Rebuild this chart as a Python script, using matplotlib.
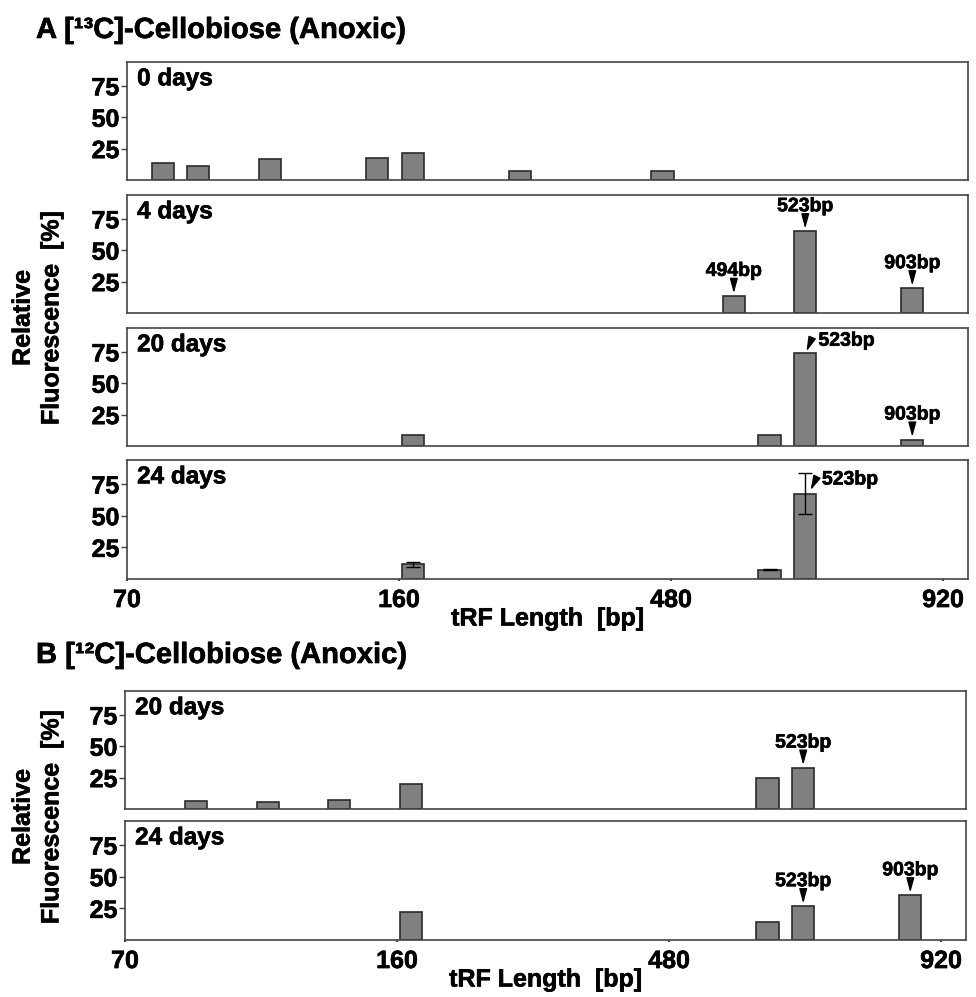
import matplotlib
matplotlib.use("Agg")
import matplotlib.pyplot as plt
import matplotlib.patheffects as pe
from matplotlib.text import Text
from matplotlib.transforms import offset_copy

plt.rcParams['font.family'] = ['Liberation Sans', 'DejaVu Sans']
plt.rcParams['font.weight'] = 'bold'

# tRF bins (positions along the categorical x axis) and relative fluorescence [%]
a0_bins = [1, 2, 4, 7, 8, 11, 15]
a0_vals = [13.2, 11.1, 16.4, 17.2, 21.7, 7.4, 6.9]

a4_bins = [17, 19, 22]
a4_vals = [13.5, 65.0, 19.6]

a20_bins = [8, 18, 19, 22]
a20_vals = [9.0, 9.0, 73.8, 5.0]

a24_bins = [8, 18, 19]
a24_vals = [11.6, 7.4, 67.5]
a24_err = [1.8, 0.6, 16.0]

b20_bins = [2, 4, 6, 8, 18, 19]
b20_vals = [6.4, 5.8, 7.2, 20.2, 24.5, 32.8]

b24_bins = [8, 18, 19, 22]
b24_vals = [22.1, 14.6, 26.6, 35.2]

tick_labels = ['70', '160', '480', '920']
y_ticks = [25, 50, 75]

W, H = 976, 997
fig = plt.figure(figsize=(W / 100, H / 100), dpi=100)


def rect(left, right, top, bottom):
    return [left / W, 1 - bottom / H, (right - left) / W, (bottom - top) / H]


BAR = '#808080'
EDGE = '#2b2b2b'
SPINE = '#444444'
ARROW = dict(arrowstyle='-|>,head_length=0.55,head_width=0.15',
             color='black', lw=1, shrinkA=0, shrinkB=0, mutation_scale=16)


def panel(r, bins, vals, label, err=None, xaxis=False):
    ax = fig.add_axes(r)
    ax.bar(bins, vals, width=0.62, color=BAR, edgecolor=EDGE, linewidth=1.2, zorder=2)
    if err is not None:
        ax.errorbar(bins, vals, yerr=err, fmt='none', ecolor='black',
                    elinewidth=1.0, capsize=5, capthick=1.0, zorder=3)
    ax.set_xlim(0, 23.56)
    ax.set_ylim(0, 94)
    ax.set_yticks(y_ticks)
    ax.tick_params(axis='y', length=4.5, width=1, pad=1, labelsize=18, color=SPINE)
    if xaxis:
        ax.set_xticks([0, 7.62, 15.24, 22.86])
        ax.set_xticklabels(tick_labels)
        ax.tick_params(axis='x', length=1.5, width=1.5, pad=5, labelsize=18, color=SPINE)
        ax.set_xlabel('tRF Length  [bp]', fontsize=18, fontweight='bold', labelpad=-4)
    else:
        ax.set_xticks([])
    for s in ax.spines.values():
        s.set_color(SPINE)
        s.set_linewidth(1.2)
    ax.text(0.012, 0.955, label, transform=ax.transAxes, ha='left', va='top',
            fontsize=17.5, fontweight='bold')
    return ax


def mark_up(ax, x, y, text):
    tip = offset_copy(ax.transData, fig=fig, x=0, y=2, units='points')
    tail = offset_copy(ax.transData, fig=fig, x=0, y=11, units='points')
    ax.annotate('', xy=(x, y), xycoords=tip, xytext=(x, y), textcoords=tail,
                arrowprops=ARROW)
    ax.annotate(text, xy=(x, y), xytext=(0, 14.5), textcoords='offset points',
                ha='center', va='baseline', fontsize=14, fontweight='bold')


def mark_side(ax, x, y, text, dtip, dtail, dtext):
    tip = offset_copy(ax.transData, fig=fig, x=dtip[0], y=dtip[1], units='points')
    tail = offset_copy(ax.transData, fig=fig, x=dtail[0], y=dtail[1], units='points')
    ax.annotate('', xy=(x, y), xycoords=tip, xytext=(x, y), textcoords=tail,
                arrowprops=ARROW)
    ax.annotate(text, xy=(x, y), xytext=dtext, textcoords='offset points',
                ha='left', va='baseline', fontsize=14, fontweight='bold')


# A: 13C-cellobiose
ax = panel(rect(127, 968, 62, 180), a0_bins, a0_vals, '0 days')

ax = panel(rect(127, 968, 195, 313), a4_bins, a4_vals, '4 days')
for b, v, t in zip(a4_bins, a4_vals, ['494bp', '523bp', '903bp']):
    mark_up(ax, b, v, t)

ax = panel(rect(127, 968, 328, 446), a20_bins, a20_vals, '20 days')
mark_side(ax, a20_bins[2], a20_vals[2], '523bp', (0.9, 1.4), (4.7, 10.6), (9.5, 5.5))
mark_up(ax, a20_bins[3], a20_vals[3], '903bp')

ax = panel(rect(127, 968, 460, 579), a24_bins, a24_vals, '24 days', err=a24_err, xaxis=True)
mark_side(ax, a24_bins[2], a24_vals[2], '523bp', (3.8, 2.4), (8.1, 11.3), (12, 6.5))

# B: 12C-cellobiose
ax = panel(rect(125, 966, 691, 809), b20_bins, b20_vals, '20 days')
mark_up(ax, b20_bins[5], b20_vals[5], '523bp')

ax = panel(rect(125, 966, 821, 940), b24_bins, b24_vals, '24 days', xaxis=True)
mark_up(ax, b24_bins[2], b24_vals[2], '523bp')
mark_up(ax, b24_bins[3], b24_vals[3], '903bp')

fig.text(36 / W, 1 - 38 / H, 'A [\u00b9\u00b3C]-Cellobiose (Anoxic)', fontsize=21,
         fontweight='bold', ha='left', va='baseline')
fig.text(36 / W, 1 - 663 / H, 'B [\u00b9\u00b2C]-Cellobiose (Anoxic)', fontsize=21,
         fontweight='bold', ha='left', va='baseline')

for yc in [318, 817]:
    fig.text(37 / W, 1 - yc / H, 'Relative\nFluorescence  [%]', rotation=90,
             ha='center', va='center', multialignment='center', fontsize=18,
             fontweight='bold', linespacing=1.25)

# heavier strokes like the original bold Helvetica
for t in fig.findobj(Text):
    t.set_path_effects([pe.withStroke(linewidth=0.45, foreground='black')])

fig.savefig('out.png', dpi=100)
